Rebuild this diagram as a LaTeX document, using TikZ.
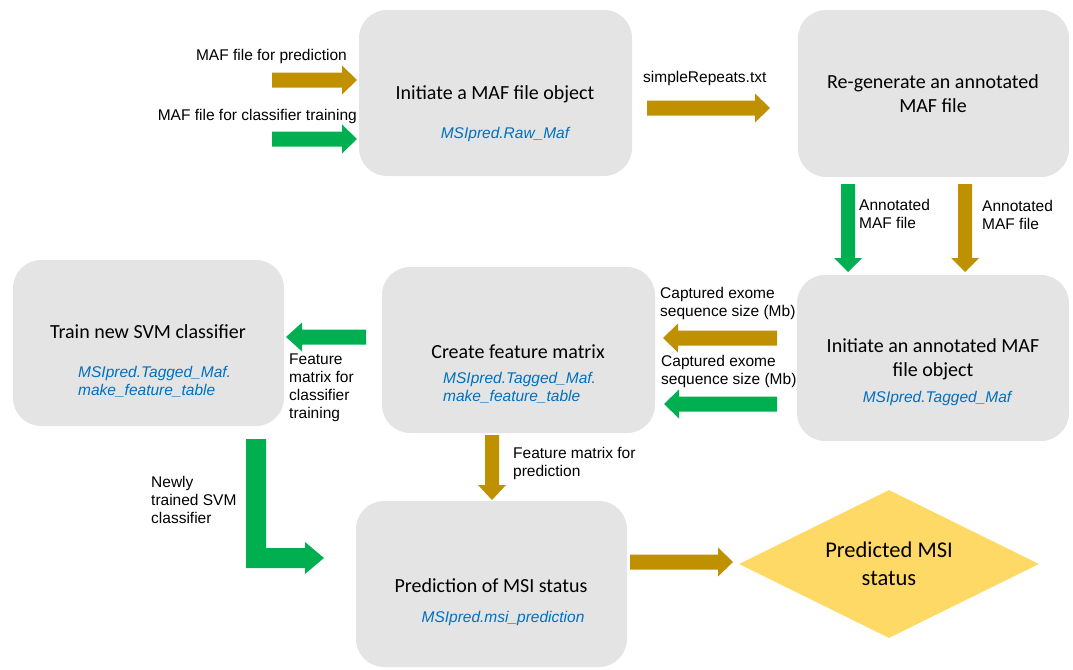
\documentclass[tikz,border=0pt]{standalone}
\usepackage{fontspec}
\setmainfont{Carlito}
\newfontfamily\arialf{Liberation Sans}
\usetikzlibrary{shapes.geometric}
\definecolor{boxgray}{RGB}{228,228,228}
\definecolor{gold}{RGB}{191,144,0}
\definecolor{grn}{RGB}{0,176,80}
\definecolor{codeblue}{RGB}{0,112,192}
\definecolor{dyellow}{RGB}{255,217,102}
% horizontal block arrow: colour, x start, x tip, y, signed head length
\newcommand\HA[5]{%
 \fill[#1] ({#2},{#4-7.5}) -- ({#3-(#5)},{#4-7.5}) -- ({#3-(#5)},{#4-14.5}) -- ({#3},{#4})
   -- ({#3-(#5)},{#4+14.5}) -- ({#3-(#5)},{#4+7.5}) -- ({#2},{#4+7.5}) -- cycle;}
% vertical block arrow: colour, y start, y tip, x, signed head length
\newcommand\VA[5]{%
 \fill[#1] ({#4-7},{#2}) -- ({#4-7},{#3-(#5)}) -- ({#4-14},{#3-(#5)}) -- ({#4},{#3})
   -- ({#4+14},{#3-(#5)}) -- ({#4+7},{#3-(#5)}) -- ({#4+7},{#2}) -- cycle;}
\begin{document}
\begin{tikzpicture}[x=1pt,y=-1pt,
  box/.style={rounded corners=28pt, fill=boxgray, draw=none, inner sep=0},
  title/.style={font=\fontsize{20}{24}\selectfont, align=center, inner sep=0},
  sub/.style={font=\arialf\itshape\fontsize{15.5}{18}\selectfont, text=codeblue, inner sep=0, align=left},
  lab/.style={font=\arialf\fontsize{15.5}{18}\selectfont, inner sep=0, align=left}]
\useasboundingbox (0,0) rectangle (1073,669);

% boxes
\node[box, minimum width=273pt, minimum height=166pt] (b1) at (495.5,93) {};
\node[box, minimum width=271pt, minimum height=167pt] (b2) at (933.5,93.5) {};
\node[box, minimum width=272pt, minimum height=166pt] (b3) at (933,358) {};
\node[box, minimum width=273pt, minimum height=166pt] (b4) at (518.5,350) {};
\node[box, minimum width=271pt, minimum height=166pt] (b5) at (148.5,343) {};
\node[box, minimum width=271pt, minimum height=166pt] (b6) at (491.5,584) {};
\node[diamond, fill=dyellow, minimum width=300pt, minimum height=148pt, inner sep=0, aspect=2,
  font=\fontsize{22.5}{28}\selectfont, align=center] (pred) at (889,564) {Predicted MSI\\status};

% box texts
\node[title] (b1t) at (495,94) {Initiate a MAF file object};
\node[sub] (b1s) at (505,134) {MSIpred.Raw\_Maf};
\node[title] (b2t) at (933,94) {Re-generate an annotated\\MAF file};
\node[title] (b3t) at (933,359.5) {Initiate an annotated MAF\\file object};
\node[sub] (b3s) at (937,398) {MSIpred.Tagged\_Maf};
\node[title] (b4t) at (518,352) {Create feature matrix};
\node[sub, anchor=west] (b4s) at (443,387.5) {MSIpred.Tagged\_Maf.\\make\_feature\_table};
\node[title] (b5t) at (148,332) {Train new SVM classifier};
\node[sub, anchor=west] (b5s) at (78,382) {MSIpred.Tagged\_Maf.\\make\_feature\_table};
\node[title] (b6t) at (491,586) {Prediction of MSI status};
\node[sub] (b6s) at (503,618) {MSIpred.msi\_prediction};

% labels
\node[lab, anchor=east] (l1) at (347,56) {MAF file for prediction};
\node[lab, anchor=east] (l2) at (357,116) {MAF file for classifier training};
\node[lab, anchor=west] (l3) at (643,78) {simpleRepeats.txt};
\node[lab, anchor=west] (l4) at (859,214) {Annotated\\MAF file};
\node[lab, anchor=west] (l5) at (982,215) {Annotated\\MAF file};
\node[lab, anchor=west] (l6) at (660,303) {Captured exome\\sequence size (Mb)};
\node[lab, anchor=west] (l7) at (661,371) {Captured exome\\sequence size (Mb)};
\node[lab, anchor=west] (l8) at (289,388) {Feature\\matrix for\\classifier\\training};
\node[lab, anchor=west] (l9) at (513,463) {Feature matrix for\\prediction};
\node[lab, anchor=west] (l10) at (151,500) {Newly\\trained SVM\\classifier};

% block arrows
\HA{gold}{272}{357}{80}{15}
\HA{grn}{272}{357}{139}{15}
\HA{gold}{647}{770}{108}{15}
\VA{grn}{184}{272}{848}{14}
\VA{gold}{184}{272}{965}{14}
\HA{gold}{777}{663}{338}{-15}
\HA{grn}{777}{664}{404}{-15}
\HA{grn}{366}{286}{337}{-16}
\VA{gold}{435}{500}{492}{15}
\HA{gold}{630}{733}{562}{15}
\fill[grn] (246,439) -- (266,439) -- (266,548) -- (305,548) -- (305,542) -- (324,558)
  -- (305,574) -- (305,568) -- (246,568) -- cycle;
\end{tikzpicture}
\end{document}
